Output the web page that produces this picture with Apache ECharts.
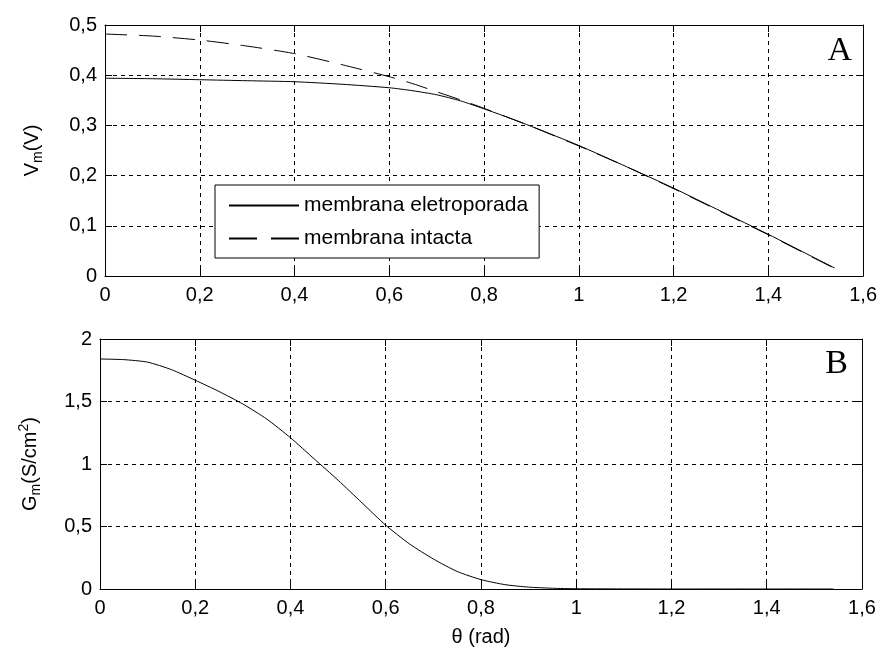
<!DOCTYPE html>
<html>
<head>
<meta charset="utf-8">
<script src="https://cdn.jsdelivr.net/npm/echarts@6/dist/echarts.min.js"></script>
<style>
html,body{margin:0;padding:0;background:#fff;}
#c{width:880px;height:652px;}
</style>
</head>
<body>
<div id="c"></div>
<script>
// ---- data ----
var thetaA = [0, 0.1, 0.2, 0.3, 0.4, 0.5, 0.6, 0.65, 0.7, 0.75, 0.8, 0.85, 0.9, 1.0, 1.1, 1.2, 1.3, 1.4, 1.5, 1.54];
var vmEletroporada = [0.394, 0.393, 0.391, 0.389, 0.387, 0.382, 0.375, 0.369, 0.361, 0.349, 0.333, 0.316, 0.298, 0.260, 0.218, 0.175, 0.129, 0.083, 0.035, 0.016];
var vmIntacta = [0.482, 0.478, 0.470, 0.458, 0.443, 0.421, 0.397, 0.383, 0.367, 0.351, 0.334, 0.316, 0.298, 0.259, 0.218, 0.174, 0.128, 0.082, 0.034, 0.015];
var thetaB = [0, 0.05, 0.1, 0.15, 0.2, 0.25, 0.3, 0.35, 0.4, 0.45, 0.5, 0.55, 0.6, 0.65, 0.7, 0.75, 0.8, 0.85, 0.9, 0.95, 1.0, 1.2, 1.4, 1.54];
var gm = [1.84, 1.835, 1.815, 1.755, 1.67, 1.58, 1.48, 1.36, 1.21, 1.04, 0.87, 0.69, 0.51, 0.36, 0.24, 0.14, 0.075, 0.035, 0.015, 0.006, 0.002, 0, 0, 0];
var seriesNames = ['membrana eletroporada', 'membrana intacta'];
var panelLabels = ['A', 'B'];
var xName = 'θ (rad)';

function pairs(xs, ys) { return xs.map(function (x, i) { return [x, ys[i]]; }); }
function fmt(v) {
  if (Math.abs(v) < 1e-9) return '0';
  return String(Number(v.toFixed(1))).replace('.', ',');
}

var FONT = 'Liberation Sans';
var FS = 20;
var gridLine = { show: true, lineStyle: { color: '#000', type: [4, 4], width: 1 } };
var axLine = { show: true, onZero: false, lineStyle: { color: '#000', width: 1 } };
var tickIn = { show: true, inside: true, length: 7, lineStyle: { color: '#000' } };

function xMain(gi, withName) {
  var o = {
    type: 'value', gridIndex: gi, min: 0, max: 1.6, interval: 0.2,
    axisLine: axLine, axisTick: tickIn, splitLine: gridLine,
    axisLabel: { formatter: fmt, color: '#000', fontFamily: FONT, fontSize: FS, margin: 9 }
  };
  if (withName) {
    o.name = xName; o.nameLocation = 'middle'; o.nameGap = 38;
    o.nameTextStyle = { color: '#000', fontFamily: FONT, fontSize: FS };
  }
  return o;
}
function xTop(gi) {
  return { type: 'value', gridIndex: gi, position: 'top', min: 0, max: 1.6, interval: 0.2,
    axisLine: axLine, axisTick: tickIn, splitLine: { show: false }, axisLabel: { show: false } };
}
function yMain(gi, max, interval, name, gap) {
  return {
    type: 'value', gridIndex: gi, min: 0, max: max, interval: interval,
    axisLine: axLine, axisTick: tickIn, splitLine: gridLine,
    axisLabel: { formatter: fmt, color: '#000', fontFamily: FONT, fontSize: FS, margin: 8 },
    name: name, nameLocation: 'middle', nameGap: gap, nameRotate: 90,
    nameTextStyle: {
      color: '#000', fontFamily: FONT, fontSize: FS, lineHeight: 26,
      rich: {
        n: { fontFamily: FONT, fontSize: FS, color: '#000', verticalAlign: 'middle', lineHeight: 26 },
        sub: { fontFamily: FONT, fontSize: 14, color: '#000', verticalAlign: 'bottom', lineHeight: 26 },
        sup: { fontFamily: FONT, fontSize: 14, color: '#000', verticalAlign: 'top', lineHeight: 26 }
      }
    }
  };
}
function yRight(gi, max, interval) {
  return { type: 'value', gridIndex: gi, position: 'right', min: 0, max: max, interval: interval,
    axisLine: axLine, axisTick: tickIn, splitLine: { show: false }, axisLabel: { show: false } };
}

var chart = echarts.init(document.getElementById('c'), null, { renderer: 'canvas' });
chart.setOption({
  backgroundColor: '#fff',
  animation: false,
  title: [
    { text: panelLabels[0], right: 28, top: 34, padding: 0,
      textStyle: { fontFamily: 'Liberation Serif', fontSize: 34, fontWeight: 'normal', color: '#000' } },
    { text: panelLabels[1], right: 32, top: 347, padding: 0,
      textStyle: { fontFamily: 'Liberation Serif', fontSize: 34, fontWeight: 'normal', color: '#000' } }
  ],
  grid: [
    { left: 105, right: 15, top: 25, height: 251, containLabel: false },
    { left: 100, right: 18, top: 339, height: 250, containLabel: false }
  ],
  legend: {
    data: [
      { name: seriesNames[0] },
      { name: seriesNames[1], lineStyle: { type: [28, 14] } }
    ],
    orient: 'vertical', left: 215, top: 185,
    padding: [10, 11, 9, 13], itemGap: 12, itemWidth: 70, itemHeight: 16,
    backgroundColor: '#fff', borderColor: '#000', borderWidth: 1, borderRadius: 0,
    itemStyle: { opacity: 0 },
    textStyle: { color: '#000', fontFamily: FONT, fontSize: 21 },
    selectedMode: false
  },
  xAxis: [xMain(0, false), xTop(0), xMain(1, true), xTop(1)],
  yAxis: [
    yMain(0, 0.5, 0.1, '{n|V}{sub|m}{n|(V)}', 60), yRight(0, 0.5, 0.1),
    yMain(1, 2, 0.5, '{n|G}{sub|m}{n|(S/cm}{sup|2}{n|)}', 57), yRight(1, 2, 0.5)
  ],
  series: [
    { name: seriesNames[0], type: 'line', xAxisIndex: 0, yAxisIndex: 0, z: 5,
      data: pairs(thetaA, vmEletroporada), symbol: 'none', smooth: 0.2,
      lineStyle: { color: '#000', width: 1 }, itemStyle: { color: '#000' } },
    { name: seriesNames[1], type: 'line', xAxisIndex: 0, yAxisIndex: 0, z: 4,
      data: pairs(thetaA, vmIntacta), symbol: 'none', smooth: 0.2,
      lineStyle: { color: '#000', width: 1, type: [22, 12] }, itemStyle: { color: '#000' } },
    { name: 'Gm', type: 'line', xAxisIndex: 2, yAxisIndex: 2, z: 5,
      data: pairs(thetaB, gm), symbol: 'none', smooth: 0.2,
      lineStyle: { color: '#000', width: 1 }, itemStyle: { color: '#000' } }
  ]
});
</script>
</body>
</html>
